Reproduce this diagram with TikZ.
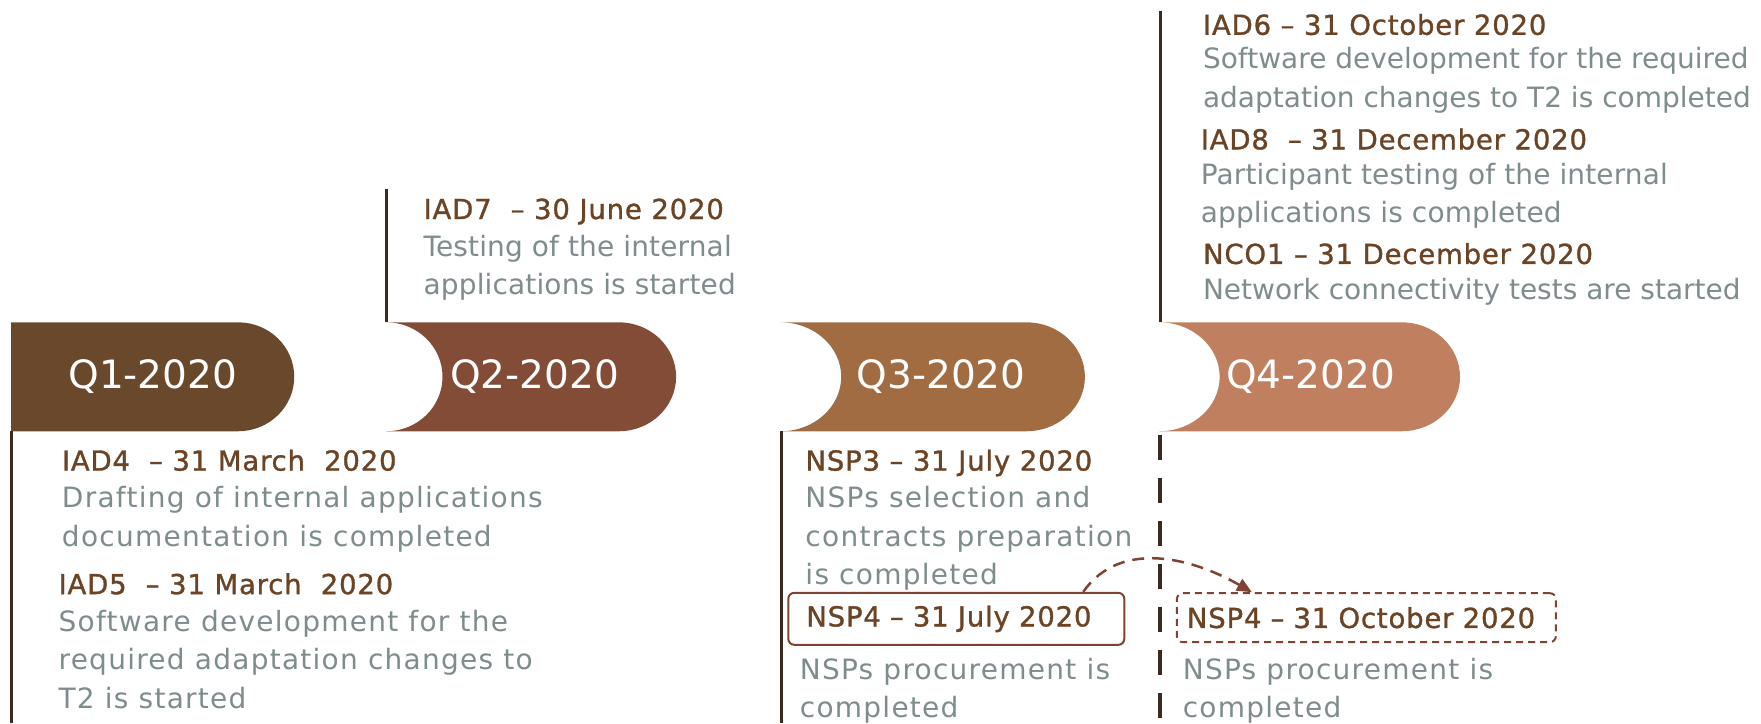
\documentclass[tikz,border=0pt]{standalone}
\usepackage{fontspec}
\setmainfont[LetterSpace=0.5]{DejaVu Sans}
\newfontfamily\widefont[LetterSpace=4.5]{DejaVu Sans}
\newfontfamily\ttlfont[FakeBold=1.2,LetterSpace=3]{DejaVu Sans}
\newfontfamily\qfont{DejaVu Sans}
\usetikzlibrary{arrows.meta}

\definecolor{qone}{HTML}{6A482C}
\definecolor{qtwo}{HTML}{834C36}
\definecolor{qthree}{HTML}{A16C41}
\definecolor{qfour}{HTML}{C08060}
\definecolor{ttlbrown}{HTML}{6B4426}
\definecolor{dscgray}{HTML}{7F8C8D}
\definecolor{linedark}{HTML}{3B2A20}
\definecolor{boxbrown}{HTML}{7E4333}

\newcommand{\lines}[1]{\begin{tabular}[t]{@{}l@{}}#1\end{tabular}}

\tikzset{
    ttl/.style={anchor=base west, inner sep=0, text=ttlbrown, font=\ttlfont\fontsize{27.5}{38}\selectfont},
    dsc/.style={anchor=base west, inner sep=0, text=dscgray, font=\fontsize{28}{38.5}\selectfont},
    dscwide/.style={dsc, font=\widefont\fontsize{28}{38.5}\selectfont},
    qlabel/.style={text=white, font=\qfont\fontsize{39}{42}\selectfont},
    mline/.style={line width=3pt, draw=linedark},
}

\begin{document}
\begin{tikzpicture}[x=1.1231pt,y=1.1231pt]
    \useasboundingbox (0,0) rectangle (1568,-644);
    % quarters
    \fill[qone] (10,-287) -- (212,-287) arc[start angle=90,end angle=-90,x radius=50,y radius=48.5] -- (10,-384) -- cycle;
    \fill[qtwo] (344,-287) -- (551,-287) arc[start angle=90,end angle=-90,x radius=51,y radius=48.5] -- (344,-384) arc[start angle=-90,end angle=90,x radius=50,y radius=48.5] -- cycle;
    \fill[qthree] (695,-287) -- (914,-287) arc[start angle=90,end angle=-90,x radius=52,y radius=48.5] -- (695,-384) arc[start angle=-90,end angle=90,x radius=54,y radius=48.5] -- cycle;
    \fill[qfour] (1032,-287) -- (1248,-287) arc[start angle=90,end angle=-90,x radius=52,y radius=48.5] -- (1032,-384) arc[start angle=-90,end angle=90,x radius=54,y radius=48.5] -- cycle;
    \node[qlabel] (q1) at (136,-335) {Q1-2020};
    \node[qlabel] (q2) at (476,-335) {Q2-2020};
    \node[qlabel] (q3) at (838,-335) {Q3-2020};
    \node[qlabel] (q4) at (1167,-335) {Q4-2020};

    % milestone lines
    \coordinate (l1a) at (10,-384);
    \coordinate (l1b) at (10,-644);
    \coordinate (l2a) at (344,-168);
    \coordinate (l2b) at (344,-287);
    \coordinate (l3a) at (696,-384);
    \coordinate (l3b) at (696,-644);
    \coordinate (l4a) at (1033,-10);
    \coordinate (l4b) at (1033,-287);
    \coordinate (l4c) at (1033,-387);
    \coordinate (l4d) at (1033,-644);
    \draw[mline] (l1a) -- (l1b);
    \draw[mline] (l2a) -- (l2b);
    \draw[mline] (l3a) -- (l3b);
    \draw[mline] (l4a) -- (l4b);
    \draw[mline, line width=3.5pt, dash pattern=on 25pt off 18pt] (l4c) -- (l4d);

    % Q1
    \node[ttl] (iad4) at (55,-419) {IAD4\ \ – 31 March\ \ 2020};
    \node[dscwide] (iad4d) at (55,-452) {\lines{Drafting of internal applications\\documentation is completed}};
    \node[ttl] (iad5) at (52,-529) {IAD5\ \ – 31 March\ \ 2020};
    \node[dscwide] (iad5d) at (52,-562) {\lines{Software development for the\\required adaptation changes to\\T2 is started}};
    % Q2
    \node[ttl] (iad7) at (377,-195) {IAD7\ \ – 30 June 2020};
    \node[dsc] (iad7d) at (377,-228) {\lines{Testing of the internal\\applications is started}};
    % Q3
    \node[ttl] (nsp3) at (717,-419) {NSP3 – 31 July 2020};
    \node[dscwide] (nsp3d) at (717,-452) {\lines{NSPs selection and\\contracts preparation\\is completed}};
    \node[ttl, anchor=west, draw=boxbrown, line width=2pt, rounded corners=6pt,
          inner xsep=18pt, text width=300pt, minimum height=52pt] (nsp4a) at (701,-551) {NSP4 – 31 July 2020};
    \node[dscwide] (nsp4ad) at (712,-605) {\lines{NSPs procurement is\\completed}};
    % Q4
    \node[ttl] (iad6) at (1071,-31) {IAD6 – 31 October 2020};
    \node[dsc, font=\qfont\fontsize{28}{38.5}\selectfont] (iad6d) at (1071,-61) {\lines{Software development for the required\\adaptation changes to T2 is completed}};
    \node[ttl] (iad8) at (1069,-133) {IAD8\ \ – 31 December 2020};
    \node[dsc] (iad8d) at (1069,-164) {\lines{Participant testing of the internal\\applications is completed}};
    \node[ttl] (nco1) at (1071,-235) {NCO1 – 31 December 2020};
    \node[dsc, font=\qfont\fontsize{28}{38.5}\selectfont] (nco1d) at (1071,-267) {Network connectivity tests are started};
    \node[ttl, anchor=west, draw=boxbrown, line width=2pt, dash pattern=on 7pt off 5pt,
          rounded corners=6pt, inner xsep=10pt, text width=359pt, minimum height=49pt] (nsp4b) at (1047,-550) {NSP4 – 31 October 2020};
    \node[dscwide] (nsp4bd) at (1053,-605) {\lines{NSPs procurement is\\completed}};

    % moved milestone
    \draw[boxbrown, line width=2.5pt, dash pattern=on 12pt off 8pt, -{Triangle[length=15pt,width=13pt]}]
        ([xshift=-42pt]nsp4a.north east) to[out=55, in=150] ([xshift=76pt]nsp4b.north west);
\end{tikzpicture}
\end{document}
